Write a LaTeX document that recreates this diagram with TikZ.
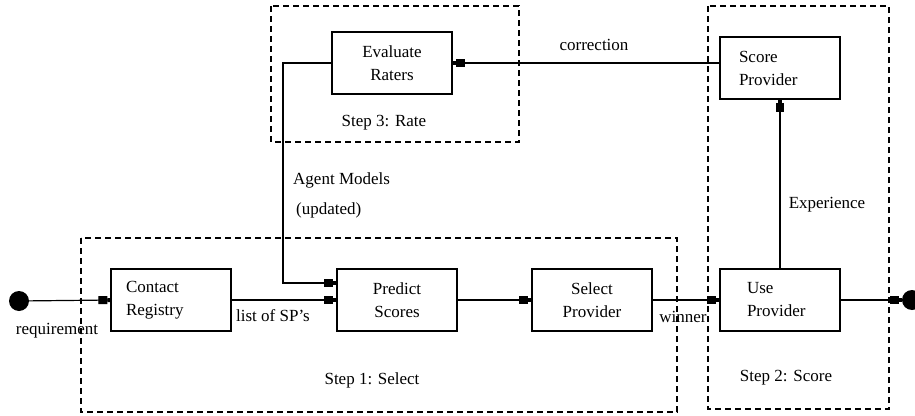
\documentclass[tikz,border=0pt]{standalone}
\usepackage{fontspec}
\setmainfont{Liberation Serif}
\usetikzlibrary{arrows.meta,calc}

\begin{document}
\begin{tikzpicture}[x=1pt,y=-1pt,
  font=\fontsize{17}{23}\selectfont,
  blk/.style={draw, line width=1.3pt, minimum width=120pt, minimum height=62pt, inner ysep=0pt},
  lblk/.style={blk, align=left},
  cblk/.style={blk, align=center, inner xsep=0pt},
  flow/.style={line width=1.2pt, -{Square[length=9pt,width=8pt,sep=0pt]Square[length=3pt,width=4pt,sep=0pt]}},
  stage/.style={dash pattern=on 6pt off 4pt, line width=1.1pt},
  dot/.style={circle, fill=black, minimum size=20pt, inner sep=0pt},
  txt/.style={inner sep=0pt}
]
\useasboundingbox (0,0) rectangle (915,415);
\clip (0,0) rectangle (915,415);

% stage frames
\draw[stage] (271,6) rectangle (519,142);
\draw[stage] (81,238) rectangle (677,412);
\draw[stage] (708,6) rectangle (889,409);

% process blocks
\node[lblk, inner xsep=15pt, text width=90pt] (cr) at (171,300) {Contact\\Registry};
\node[cblk] (ps) at (397,300) {Predict\\Scores};
\node[cblk] (sel) at (592,300) {Select\\Provider};
\node[lblk, inner xsep=27pt, text width=66pt] (up) at (780,300) {Use\\Provider};
\node[lblk, inner xsep=19pt, text width=82pt] (sp) at (780,68) {Score\\Provider};
\node[cblk] (ev) at (392,63) {Evaluate\\Raters};

% terminals
\node[dot] (start) at (19,301) {};
\node[dot] (stop) at (912,300) {};

% main flow
\draw[flow] (start) -- (cr.west);
\draw[flow] (cr.east) -- (ps.west);
\draw[flow] (ps.east) -- (sel.west);
\draw[flow] (sel.east) -- (up.west);
\draw[flow] (up.east) -- (stop.west);
\draw[flow] (up.north) -- (sp.south);
\draw[flow] (sp.west |- ev.east) -- (ev.east);
\coordinate (fb) at (283,63);
\draw[flow] (ev.west) -- (fb) |- ($(ps.west)+(0,-17)$);

% connector labels
\node[txt] (lreq) at (57,331) {requirement};
\node[txt] (lsp) at (273,316) {list of SP's};
\node[txt] (lwin) at (683,317) {winner};
\node[txt] (lexp) at (827,205) {Experience};
\node[txt] (lcor) at (594,45) {correction};
\node[txt, anchor=west] (lam) at (293,180) {Agent Models};
\node[txt, anchor=west] (lupd) at (296,210) {(updated)};

% stage titles
\node[txt] (s1) at (372,380) {Step 1: Select};
\node[txt] (s2) at (786,378) {Step 2: Score};
\node[txt] (s3) at (384,123) {Step 3: Rate};
\end{tikzpicture}
\end{document}
